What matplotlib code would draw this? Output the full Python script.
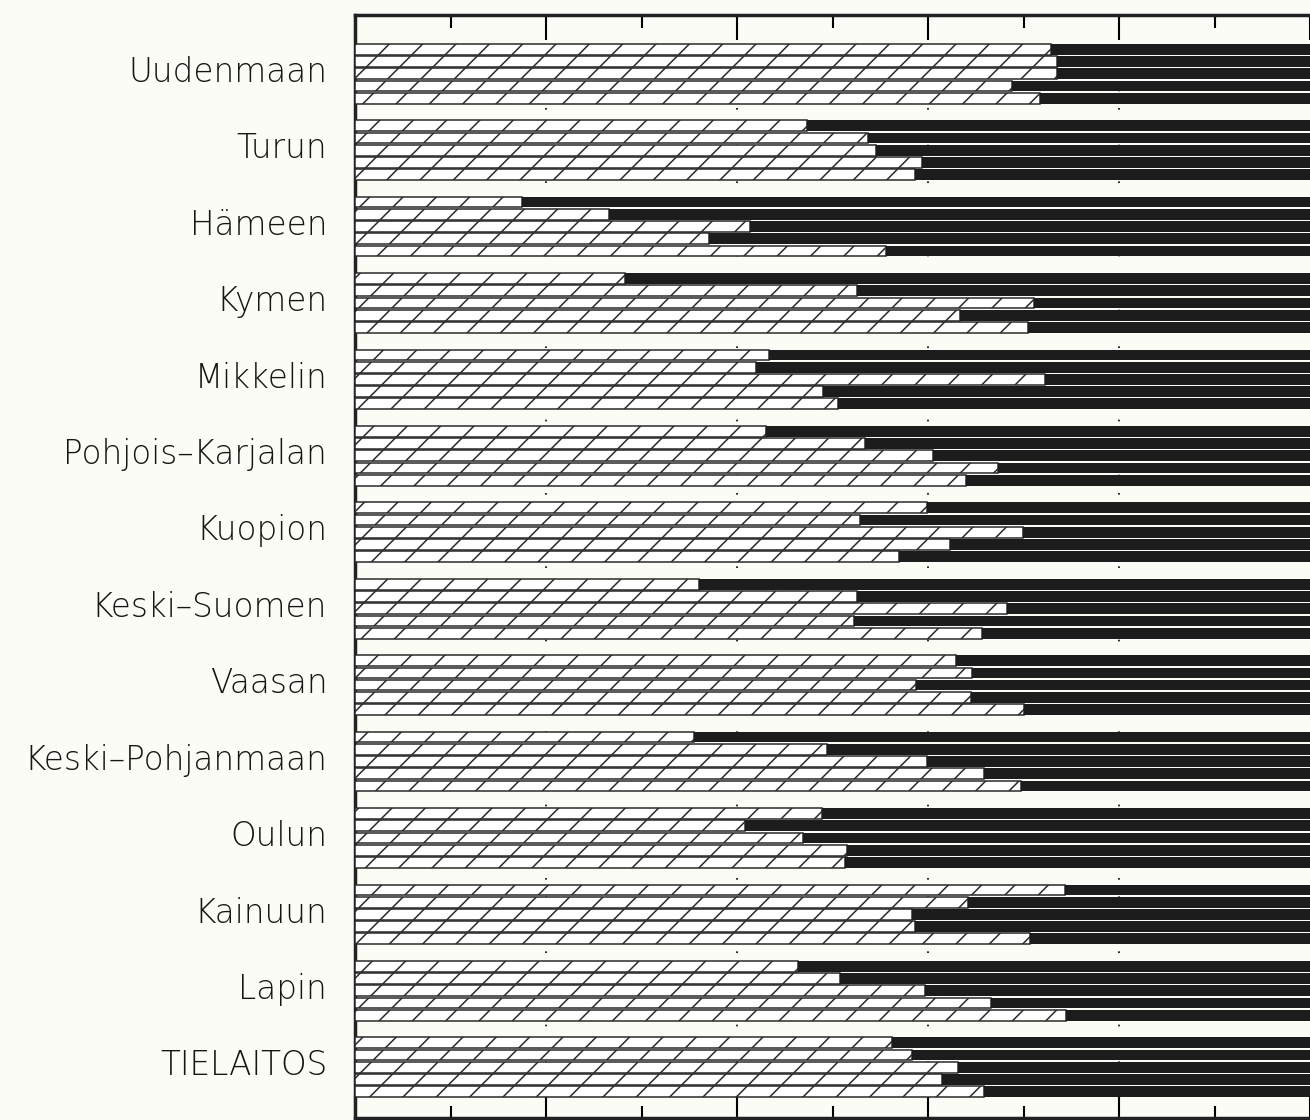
import matplotlib
matplotlib.use('agg')
import matplotlib.pyplot as plt
import matplotlib.ticker as tick

plt.rcParams['hatch.linewidth'] = 1.1

regions = ['Uudenmaan', 'Turun', 'Hämeen', 'Kymen', 'Mikkelin', 'Pohjois–Karjalan',
           'Kuopion', 'Keski–Suomen', 'Vaasan', 'Keski–Pohjanmaan', 'Oulun',
           'Kainuun', 'Lapin', 'TIELAITOS']

# hatched share (%) of each of the five bars per region, rest is black up to 100
share_bar1 = [72.9, 47.3, 17.5, 28.3, 43.3, 43.0, 59.9, 36.0, 62.9, 35.5, 48.9, 74.3, 46.4, 56.2]
share_bar2 = [73.5, 53.7, 26.6, 52.6, 42.0, 53.4, 52.9, 52.6, 64.6, 49.4, 40.8, 64.2, 50.8, 58.3]
share_bar3 = [73.5, 54.6, 41.4, 71.1, 72.3, 60.5, 69.9, 68.3, 58.7, 59.9, 46.9, 58.3, 59.7, 63.1]
share_bar4 = [68.8, 59.4, 37.1, 63.4, 49.0, 67.3, 62.3, 52.2, 64.5, 65.9, 51.5, 58.6, 66.6, 61.5]
share_bar5 = [71.7, 58.6, 55.6, 70.5, 50.6, 64.0, 57.0, 65.7, 70.1, 69.7, 51.3, 70.7, 74.5, 65.9]

bars = [share_bar1, share_bar2, share_bar3, share_bar4, share_bar5]

bg = '#fcfcf6'
dark = '#1c1c1c'
pitch = 6.25
bar_h = 0.88

fig = plt.figure(figsize=(13.1, 11.2), dpi=100, facecolor=bg)
ax = fig.add_axes([0.271, 0.002, 0.729, 0.9845])
ax.set_facecolor(bg)

for j, vals in enumerate(bars):
    ys = [i * pitch + j + 0.5 for i in range(len(regions))]
    rest = [100 - v for v in vals]
    ax.barh(ys, vals, left=0, height=bar_h, color='white', edgecolor='#2a2a2a',
            hatch='/', lw=1.1, zorder=3)
    ax.barh(ys, rest, left=vals, height=bar_h, color=dark, lw=0, zorder=3)

for gx in [20, 40, 60, 80]:
    ax.axvline(gx, color='black', lw=1.2, linestyle=(0, (1, 10)), zorder=1)

ax.set_xlim(0, 100)
ax.set_ylim(13 * pitch + 5 + 1.63, -2.29)

ax.set_yticks([i * pitch + 2.1 for i in range(len(regions))])
ax.set_yticklabels(regions, fontsize=23.5, color='#151515', fontweight='light')
ax.tick_params(axis='y', length=0, pad=20)

ax.xaxis.set_major_locator(tick.MultipleLocator(20))
ax.xaxis.set_minor_locator(tick.MultipleLocator(10))
ax.tick_params(axis='x', which='major', direction='in', top=True, bottom=True,
               length=18, width=1.5, labelbottom=False)
ax.tick_params(axis='x', which='minor', direction='in', top=True, bottom=True,
               length=9, width=1.5)

ax.spines['right'].set_visible(False)
for s in ['left', 'top', 'bottom']:
    ax.spines[s].set_linewidth(2.5)
    ax.spines[s].set_color('#222222')

fig.savefig('out.png', dpi=100, facecolor=bg)
